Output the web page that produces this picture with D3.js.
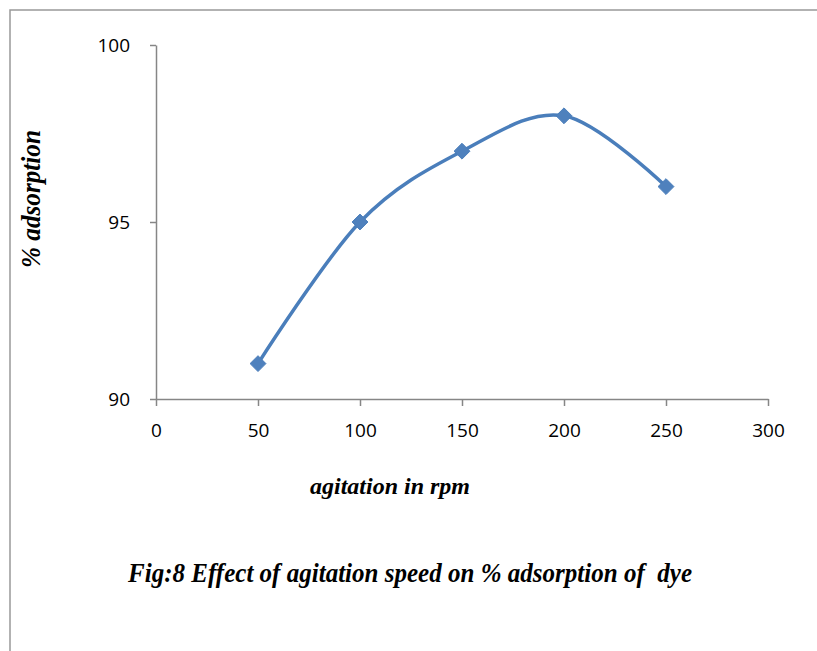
<!DOCTYPE html>
<html><head><meta charset="utf-8">
<script src="https://cdn.jsdelivr.net/npm/d3@7"></script>
<style>body{margin:0;background:#fff} text{white-space:pre}</style>
</head><body>
<svg id="c" width="817" height="651"></svg>
<script>
const rpm = [50, 100, 150, 200, 250];
const adsorption = [91, 95, 97, 98, 96];
const xTicks = [0, 50, 100, 150, 200, 250, 300];
const yTicks = [90, 95, 100];

const svg = d3.select("#c");
svg.append("path").attr("d","M10,651 V10 H817").attr("fill","none").attr("stroke","#999").attr("stroke-width",1.5);

const x = d3.scaleLinear().domain([0,300]).range([156,768]);
const y = d3.scaleLinear().domain([90,100]).range([399,45]);

const tickFont = "'Open Sans', 'Liberation Sans', sans-serif";
const gx = svg.append("g").attr("transform","translate(0,399)")
  .call(d3.axisBottom(x).tickValues(xTicks).tickSize(7).tickSizeOuter(0).tickPadding(18));
const gy = svg.append("g").attr("transform","translate(156,0)")
  .call(d3.axisLeft(y).tickValues(yTicks).tickSize(6).tickSizeOuter(0).tickPadding(20));
[gx,gy].forEach(g=>{
  g.selectAll("path,line").attr("stroke","#868686").attr("stroke-width",1.5);
  g.selectAll("text").attr("font-family",tickFont).attr("font-size",19).attr("fill","#000");
});

const line = d3.line().x((d,i)=>x(rpm[i])).y(d=>y(d)).curve(d3.curveCardinal.tension(0));
svg.append("path").attr("d",line(adsorption)).attr("fill","none").attr("stroke","#4A7EBB").attr("stroke-width",3.5);

svg.selectAll(".m").data(adsorption).enter().append("path")
  .attr("transform",(d,i)=>`translate(${x(rpm[i])},${y(d)})`)
  .attr("d",d3.symbol().type(d3.symbolDiamond2).size(160))
  .attr("fill","#4F81BD").attr("stroke","#4A7EBB").attr("stroke-width",1);

const serif = "'Liberation Serif', 'Times New Roman', serif";
svg.append("text").attr("x",390).attr("y",494).attr("text-anchor","middle")
  .attr("font-family",serif).attr("font-style","italic").attr("font-weight","bold").attr("font-size",24)
  .text("agitation in rpm");
svg.append("text").attr("transform","translate(40,199) rotate(-90) scale(1,1.1)").attr("text-anchor","middle")
  .attr("font-family",serif).attr("font-style","italic").attr("font-weight","bold").attr("font-size",24)
  .attr("textLength",138).attr("lengthAdjust","spacingAndGlyphs")
  .text("% adsorption");
svg.append("text").attr("transform","translate(410,582) scale(1,1.1)").attr("text-anchor","middle")
  .attr("font-family",serif).attr("font-style","italic").attr("font-weight","bold").attr("font-size",24)
  .attr("textLength",564).attr("lengthAdjust","spacingAndGlyphs")
  .text("Fig:8 Effect of agitation speed on % adsorption of  dye");
</script>
</body></html>
